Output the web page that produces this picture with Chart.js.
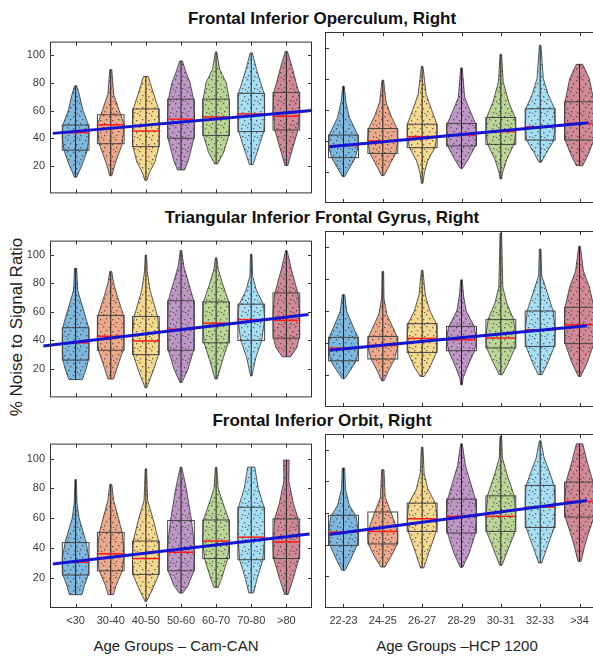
<!DOCTYPE html>
<html>
<head>
<meta charset="utf-8">
<script src="https://cdn.jsdelivr.net/npm/chart.js@4.4.1/dist/chart.umd.min.js"></script>
<style>
html, body { margin: 0; padding: 0; overflow: hidden; background: #fff; }
body { position: relative; width: 593px; height: 656px; font-family: "Liberation Sans", Arial, sans-serif; }
canvas { position: absolute; }
.title { position: absolute; left: 322px; transform: translate(-50%, -50%); font-weight: bold; font-size: 17px; color: #111; white-space: nowrap; }
.xtitle { position: absolute; transform: translate(-50%, -50%); font-size: 15px; color: #222; white-space: nowrap; }
.ytitle { position: absolute; left: 17px; top: 327px; transform: translate(-50%, -50%) rotate(-90deg); font-size: 17px; color: #222; white-space: nowrap; }
</style>
</head>
<body>
<div class="title" style="top:19px">Frontal Inferior Operculum, Right</div>
<div class="title" style="top:218px">Triangular Inferior Frontal Gyrus, Right</div>
<div class="title" style="top:421px">Frontal Inferior Orbit, Right</div>
<div class="ytitle">% Noise to Signal Ratio</div>
<div class="xtitle" style="left:176px; top:645px">Age Groups – Cam-CAN</div>
<div class="xtitle" style="left:457px; top:645px">Age Groups –HCP 1200</div>

<canvas id="opercCam" width="314" height="175" style="left:0px; top:30px"></canvas>
<canvas id="opercHcp" width="277" height="175" style="left:323px; top:30px"></canvas>
<canvas id="triCam" width="314" height="180" style="left:0px; top:229px"></canvas>
<canvas id="triHcp" width="277" height="180" style="left:323px; top:229px"></canvas>
<canvas id="orbCam" width="314" height="200" style="left:0px; top:432px"></canvas>
<canvas id="orbHcp" width="277" height="200" style="left:323px; top:432px"></canvas>

<script>
// age group labels
const camGroups = ["<30", "30-40", "40-50", "50-60", "60-70", "70-80", ">80"];
const hcpGroups = ["22-23", "24-25", "26-27", "28-29", "30-31", "32-33", ">34"];
const yTickValues = [20, 40, 60, 80, 100];

// box per group: [q1, median, q3]
const opercCamBox = [[31.3, 44, 49.5], [36, 49.7, 57], [33.9, 45.2, 61.2], [39.9, 53.8, 68.3], [42, 55.4, 68.3], [44.8, 57.6, 72.5], [45.9, 55.9, 73.2]];
const opercHcpBox = [[29.2, 36.9, 43.7], [31.9, 39.9, 47.9], [35.6, 42.7, 50.7], [36.7, 43.7, 51.2], [37.7, 45.9, 55], [40.5, 49, 60.6], [40.5, 51.2, 65.1]];
const triCamBox = [[26.2, 38.3, 48.9], [33.1, 42.9, 57.5], [30, 39.6, 56.8], [33.1, 47.9, 67.8], [38.3, 52.1, 67], [40, 54.6, 65.4], [41.6, 54.1, 73.3]];
const triHcpBox = [[28.9, 36.8, 43.5], [30, 38.5, 44.1], [34.1, 42.9, 52.1], [35.2, 42, 50.4], [36.9, 43.1, 54.6], [37.9, 48.3, 60], [39.6, 51.4, 62.3]];
const orbCamBox = [[22.1, 30.6, 43.8], [24.9, 36.3, 50.6], [22.5, 33.1, 44.8], [24.9, 37.3, 58.5], [33.1, 44.8, 58.9], [32.3, 47.4, 67.4], [33.1, 44.2, 59.6]];
const orbHcpBox = [[39.6, 48, 58.6], [40.5, 48.4, 60.7], [48.4, 56.4, 66.3], [47.4, 57.9, 68.8], [48.4, 57.9, 70.9], [50.9, 63.8, 77.5], [57.5, 67.4, 79.6]];

// violin outline per group: [value, half width in group units], bottom to top
const opercCamViolin = [
  [[11.7, 0.03], [21, 0.19], [31, 0.33], [41, 0.38], [50, 0.36], [60, 0.21], [72, 0.1], [78, 0.03]],
  [[12.8, 0.03], [22, 0.13], [36, 0.33], [50, 0.38], [60, 0.24], [72, 0.08], [89.7, 0.03]],
  [[9.5, 0.03], [15, 0.1], [23, 0.26], [34, 0.37], [45, 0.38], [61, 0.36], [77, 0.16], [84.7, 0.07]],
  [[17, 0.1], [24, 0.21], [40, 0.37], [55, 0.38], [68, 0.36], [80, 0.26], [88, 0.14], [96, 0.04]],
  [[21.3, 0.04], [30, 0.22], [42, 0.36], [55, 0.38], [68, 0.37], [80, 0.29], [90, 0.1], [102.5, 0.02]],
  [[20.9, 0.05], [30, 0.17], [45, 0.36], [58, 0.38], [72, 0.37], [80, 0.27], [90, 0.15], [101.8, 0.03]],
  [[20.2, 0.04], [30, 0.15], [46, 0.33], [60, 0.38], [73, 0.36], [80, 0.28], [90, 0.18], [102.9, 0.03]]
];
const opercHcpViolin = [
  [[17, 0.03], [22, 0.14], [29, 0.3], [37, 0.38], [44, 0.36], [55, 0.15], [65, 0.06], [75.1, 0.02]],
  [[17.6, 0.03], [22, 0.12], [32, 0.33], [40, 0.38], [48, 0.36], [56, 0.21], [65, 0.08], [79, 0.02]],
  [[12.7, 0.02], [20, 0.06], [27, 0.14], [36, 0.33], [45, 0.38], [51, 0.37], [60, 0.24], [70, 0.1], [87.9, 0.02]],
  [[22.3, 0.03], [28, 0.17], [37, 0.36], [44, 0.38], [51, 0.36], [58, 0.24], [68, 0.08], [86.9, 0.02]],
  [[15.5, 0.02], [20, 0.05], [28, 0.15], [38, 0.34], [46, 0.38], [55, 0.36], [65, 0.2], [78, 0.06], [95.6, 0.02]],
  [[26.2, 0.03], [32, 0.15], [40, 0.34], [50, 0.38], [61, 0.36], [70, 0.2], [80, 0.08], [101.4, 0.02]],
  [[24, 0.08], [30, 0.2], [40, 0.36], [51, 0.38], [65, 0.37], [80, 0.25], [89.2, 0.08]]
];
const triCamViolin = [
  [[12.5, 0.19], [20, 0.3], [26, 0.36], [38, 0.38], [49, 0.37], [60, 0.24], [75, 0.06], [90.6, 0.03]],
  [[12.9, 0.08], [20, 0.17], [33, 0.35], [43, 0.38], [57, 0.37], [70, 0.2], [80, 0.08], [88.3, 0.03]],
  [[6.6, 0.02], [18, 0.2], [30, 0.36], [45, 0.38], [57, 0.33], [75, 0.12], [88, 0.04], [99.8, 0.02]],
  [[10.4, 0.03], [20, 0.2], [33, 0.36], [48, 0.38], [68, 0.36], [80, 0.22], [92, 0.08], [103.1, 0.02]],
  [[12.9, 0.03], [25, 0.17], [38, 0.34], [52, 0.38], [67, 0.36], [80, 0.18], [90, 0.06], [97.9, 0.02]],
  [[15, 0.02], [28, 0.13], [40, 0.3], [55, 0.38], [65, 0.35], [75, 0.15], [85, 0.04], [100.4, 0.02]],
  [[28.5, 0.12], [35, 0.3], [42, 0.37], [60, 0.38], [73, 0.33], [90, 0.14], [103.1, 0.02]]
];
const triHcpViolin = [
  [[17.7, 0.03], [22, 0.15], [29, 0.33], [37, 0.38], [44, 0.36], [50, 0.25], [60, 0.08], [70.2, 0.03]],
  [[16.4, 0.03], [22, 0.13], [30, 0.3], [38, 0.38], [44, 0.36], [50, 0.25], [58, 0.1], [68, 0.03], [84.7, 0.02]],
  [[19.1, 0.05], [25, 0.2], [34, 0.36], [43, 0.38], [52, 0.36], [60, 0.2], [70, 0.08], [85.4, 0.02]],
  [[13.9, 0.02], [18, 0.04], [25, 0.15], [35, 0.33], [42, 0.38], [50, 0.33], [60, 0.12], [70, 0.05], [79.5, 0.02]],
  [[20.2, 0.04], [28, 0.2], [37, 0.36], [45, 0.38], [55, 0.32], [65, 0.15], [75, 0.05], [108.7, 0.02]],
  [[20.2, 0.05], [28, 0.2], [38, 0.36], [48, 0.38], [60, 0.33], [70, 0.2], [82, 0.04], [98.7, 0.02]],
  [[19.1, 0.03], [28, 0.2], [40, 0.37], [51, 0.38], [62, 0.37], [75, 0.25], [85, 0.1], [100.4, 0.02]]
];
const orbCamViolin = [
  [[8.9, 0.18], [15, 0.25], [22, 0.36], [33, 0.38], [44, 0.3], [60, 0.1], [70, 0.04], [85.9, 0.02]],
  [[9.1, 0.08], [15, 0.15], [25, 0.33], [36, 0.38], [50, 0.33], [60, 0.22], [72, 0.08], [82.7, 0.03]],
  [[4.3, 0.02], [12, 0.18], [22, 0.36], [33, 0.38], [45, 0.36], [60, 0.2], [72, 0.05], [93.1, 0.02]],
  [[10, 0.05], [15, 0.2], [25, 0.37], [42, 0.38], [58.5, 0.3], [80, 0.15], [94.3, 0.02]],
  [[13.7, 0.06], [20, 0.16], [33, 0.33], [45, 0.38], [59, 0.36], [70, 0.2], [80, 0.06], [94.1, 0.02]],
  [[10.1, 0.07], [20, 0.17], [32, 0.33], [47, 0.38], [67, 0.37], [80, 0.2], [94.3, 0.1]],
  [[9.1, 0.05], [20, 0.2], [33, 0.36], [44, 0.38], [60, 0.33], [70, 0.2], [85, 0.07], [99, 0.08]]
];
const orbHcpViolin = [
  [[23.8, 0.04], [30, 0.17], [40, 0.35], [48, 0.38], [58, 0.32], [65, 0.15], [75, 0.05], [88.5, 0.03]],
  [[25.9, 0.05], [32, 0.2], [40, 0.36], [46, 0.38], [52, 0.33], [61, 0.2], [70, 0.06], [87.4, 0.03]],
  [[25.3, 0.04], [35, 0.17], [48, 0.35], [56, 0.38], [66, 0.34], [75, 0.15], [85, 0.05], [101.7, 0.02]],
  [[25.7, 0.03], [35, 0.2], [47, 0.35], [58, 0.38], [69, 0.35], [80, 0.22], [90, 0.1], [103.8, 0.02]],
  [[27, 0.03], [38, 0.2], [48, 0.36], [58, 0.38], [71, 0.34], [85, 0.15], [95, 0.04], [108.5, 0.02]],
  [[28.5, 0.04], [40, 0.2], [51, 0.36], [64, 0.38], [77, 0.36], [85, 0.25], [95, 0.1], [105.7, 0.02]],
  [[29.5, 0.04], [38, 0.12], [45, 0.2], [57, 0.36], [67, 0.38], [80, 0.34], [92, 0.2], [103.8, 0.08]]
];

// linear fit end points: [group position, value]
const opercCamTrend = [[0.35, 43.5], [7.73, 60.1]];
const opercHcpTrend = [[0.64, 36.2], [7.23, 51.6]];
const triCamTrend = [[0.08, 36.0], [7.63, 58.1]];
const triHcpTrend = [[0.64, 35.4], [7.19, 50.8]];
const orbCamTrend = [[0.35, 29.5], [7.66, 49.5]];
const orbHcpTrend = [[0.64, 46.4], [7.19, 68.0]];

const groupColors = ["rgba(0,114,189,0.5)", "rgba(217,83,25,0.5)", "rgba(237,177,32,0.5)", "rgba(126,47,142,0.5)",
  "rgba(119,172,48,0.5)", "rgba(77,190,238,0.5)", "rgba(162,20,47,0.5)"];

Chart.defaults.font.family = "'Liberation Sans', Arial, sans-serif";

// speckle texture used inside the violins
const tile = document.createElement("canvas");
tile.width = 12; tile.height = 12;
const tctx = tile.getContext("2d");
tctx.fillStyle = "rgba(30,30,30,0.65)";
[[1, 2], [7, 1], [4, 6], [10, 5], [2, 10], [8, 9], [5, 11]].forEach(([a, b]) => tctx.fillRect(a, b, 1.3, 1.3));
let speckle = null;

function violinPlugin(violins, boxes) {
  return {
    id: "violins",
    beforeDatasetsDraw(chart) {
      const ctx = chart.ctx;
      const x = chart.scales.x, y = chart.scales.y;
      if (!speckle) speckle = ctx.createPattern(tile, "repeat");
      ctx.save();
      violins.forEach((shape, i) => {
        const cx = i + 1;
        ctx.beginPath();
        shape.forEach(([v, w], k) => {
          const px = x.getPixelForValue(cx + w), py = y.getPixelForValue(v);
          if (k === 0) ctx.moveTo(px, py); else ctx.lineTo(px, py);
        });
        for (let k = shape.length - 1; k >= 0; k--) {
          ctx.lineTo(x.getPixelForValue(cx - shape[k][1]), y.getPixelForValue(shape[k][0]));
        }
        ctx.closePath();
        ctx.fillStyle = groupColors[i];
        ctx.fill();
        ctx.fillStyle = speckle;
        ctx.fill();
        ctx.strokeStyle = "#333";
        ctx.lineWidth = 0.8;
        ctx.stroke();

        // whisker through the violin
        const xc = x.getPixelForValue(cx);
        ctx.beginPath();
        ctx.moveTo(xc, y.getPixelForValue(shape[0][0]));
        ctx.lineTo(xc, y.getPixelForValue(shape[shape.length - 1][0]));
        ctx.strokeStyle = "#222";
        ctx.lineWidth = 1;
        ctx.stroke();

        // box and median
        const [q1, med, q3] = boxes[i];
        const bl = x.getPixelForValue(cx - 0.38), br = x.getPixelForValue(cx + 0.38);
        ctx.strokeStyle = "#444";
        ctx.lineWidth = 1;
        ctx.strokeRect(bl, y.getPixelForValue(q3), br - bl, y.getPixelForValue(q1) - y.getPixelForValue(q3));
        ctx.beginPath();
        ctx.moveTo(bl, y.getPixelForValue(med));
        ctx.lineTo(br, y.getPixelForValue(med));
        ctx.strokeStyle = "#ff1a1a";
        ctx.lineWidth = 1.5;
        ctx.stroke();
      });
      ctx.restore();
    },
    afterDraw(chart) {
      const ctx = chart.ctx;
      const { left, right, top, bottom } = chart.chartArea;
      const x = chart.scales.x, y = chart.scales.y;
      ctx.save();
      ctx.strokeStyle = "#333";
      ctx.lineWidth = 1;
      ctx.strokeRect(left + 0.5, top + 0.5, right - left - 1, bottom - top - 1);
      ctx.beginPath();
      yTickValues.forEach(v => {
        const py = Math.round(y.getPixelForValue(v)) + 0.5;
        ctx.moveTo(left, py); ctx.lineTo(left + 4, py);
        ctx.moveTo(right, py); ctx.lineTo(right - 4, py);
      });
      violins.forEach((_, i) => {
        const px = Math.round(x.getPixelForValue(i + 1)) + 0.5;
        ctx.moveTo(px, bottom); ctx.lineTo(px, bottom - 4);
        ctx.moveTo(px, top); ctx.lineTo(px, top + 4);
      });
      ctx.stroke();
      ctx.restore();
    }
  };
}

function makePanel(id, groups, violins, boxes, trend, xRange, showY, showX) {
  const xScale = {
    type: "linear", min: xRange[0], max: xRange[1], display: showX,
    afterBuildTicks: s => { s.ticks = groups.map((_, i) => ({ value: i + 1 })); },
    ticks: { callback: (v, i) => groups[i], font: { size: 11 }, color: "#3c3c3c", padding: 6, maxRotation: 0, autoSkip: false },
    grid: { display: false, drawTicks: false }, border: { display: false }
  };
  if (showX) xScale.afterFit = s => { s.height = 24; };
  const yScale = {
    type: "linear", min: 0, max: 110, display: showY,
    afterBuildTicks: s => { s.ticks = yTickValues.map(v => ({ value: v })); },
    ticks: { font: { size: 11 }, color: "#3c3c3c", padding: 5 },
    grid: { display: false, drawTicks: false }, border: { display: false }
  };
  if (showY) yScale.afterFit = s => { s.width = 50; };

  new Chart(document.getElementById(id), {
    type: "scatter",
    data: {
      datasets: [{
        data: trend.map(([a, b]) => ({ x: a, y: b })),
        showLine: true,
        borderColor: "#1414d2",
        borderWidth: 3,
        pointRadius: 0,
        clip: false
      }]
    },
    options: {
      responsive: false,
      animation: false,
      layout: { padding: { left: showY ? 0 : 2, right: 2, top: 2, bottom: showX ? 0 : 2 } },
      scales: { x: xScale, y: yScale },
      plugins: { legend: { display: false }, tooltip: { enabled: false } }
    },
    plugins: [violinPlugin(violins, boxes)]
  });
}

const camRange = [0.27, 7.73];
const hcpRange = [0.53, 7.47];
makePanel("opercCam", camGroups, opercCamViolin, opercCamBox, opercCamTrend, camRange, true, false);
makePanel("opercHcp", hcpGroups, opercHcpViolin, opercHcpBox, opercHcpTrend, hcpRange, false, false);
makePanel("triCam", camGroups, triCamViolin, triCamBox, triCamTrend, camRange, true, false);
makePanel("triHcp", hcpGroups, triHcpViolin, triHcpBox, triHcpTrend, hcpRange, false, false);
makePanel("orbCam", camGroups, orbCamViolin, orbCamBox, orbCamTrend, camRange, true, true);
makePanel("orbHcp", hcpGroups, orbHcpViolin, orbHcpBox, orbHcpTrend, hcpRange, false, true);
</script>
</body>
</html>
